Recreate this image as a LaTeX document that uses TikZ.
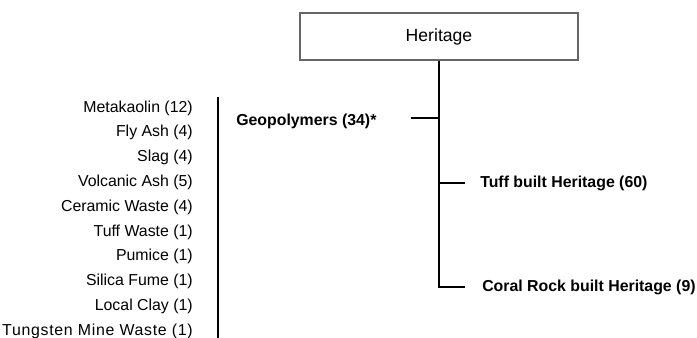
\documentclass[tikz,border=0pt]{standalone}
\usepackage{fontspec}
\setmainfont{Liberation Sans}
\tikzset{
  rootbox/.style={draw=gray!80!black, line width=0.8pt, minimum width=208.5pt,
                  minimum height=35.25pt, inner sep=0pt, font=\fontsize{13.2}{15}\selectfont},
  leaf/.style={anchor=east, inner sep=0pt, font=\fontsize{11.9}{14}\selectfont},
  branchlabel/.style={anchor=west, inner sep=0pt, font=\fontsize{11.9}{14}\selectfont\bfseries},
  trunk/.style={line width=1.5pt}
}
\begin{document}
\begin{tikzpicture}[x=0.75pt, y=-0.75pt]
  \useasboundingbox (0,0) rectangle (697,338);

  \node[rootbox] (heritage) at (439,36.5) {Heritage};

  % main branch
  \coordinate (trunkend) at (439,287);
  \coordinate (geojoint) at (439,118);
  \coordinate (geotick) at (411,118);
  \coordinate (tuffjoint) at (439,183);
  \coordinate (tufftick) at (465,183);
  \coordinate (coraltick) at (465,287);
  \draw[trunk] (heritage.south) -- (trunkend) -- (coraltick);
  \draw[trunk] (geojoint) -- (geotick);
  \draw[trunk] (tuffjoint) -- (tufftick);

  \node[branchlabel] (geopolymers) at (236,121) {Geopolymers (34)*};
  \node[branchlabel] (tuff) at (480,183) {Tuff built Heritage (60)};
  \node[branchlabel] (coral) at (482,287) {Coral Rock built Heritage (9)};

  % precursors of the geopolymers
  \coordinate (bartop) at (218,97);
  \coordinate (barbottom) at (218,338);
  \draw[trunk] (bartop) -- (barbottom);
  \foreach \name [count=\i] in {Metakaolin (12), Fly Ash (4), Slag (4),
      Volcanic Ash (5), Ceramic Waste (4), Tuff Waste (1), Pumice (1),
      Silica Fume (1), Local Clay (1),
      {\addfontfeature{LetterSpace=4.5}Tungsten Mine Waste (1)}}
    \node[leaf] (src\i) at (193,{108+24.8*(\i-1)}) {\name};
\end{tikzpicture}
\end{document}
